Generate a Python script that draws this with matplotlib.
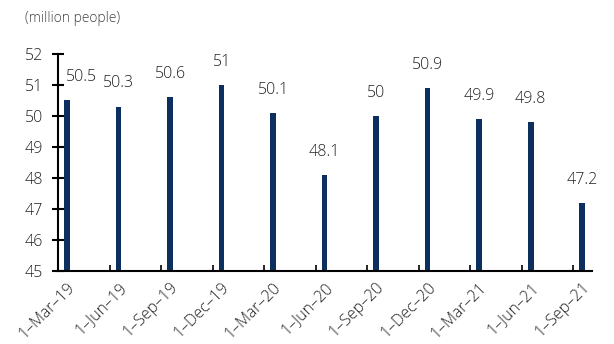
import numpy as np
import matplotlib.pyplot as plt

dates = ['1–Mar–19', '1–Jun–19', '1–Sep–19', '1–Dec–19', '1–Mar–20', '1–Jun–20',
         '1–Sep–20', '1–Dec–20', '1–Mar–21', '1–Jun–21', '1–Sep–21']
values = [50.5, 50.3, 50.6, 51, 50.1, 48.1, 50, 50.9, 49.9, 49.8, 47.2]
labels = ['50.5', '50.3', '50.6', '51', '50.1', '48.1', '50', '50.9', '49.9', '49.8', '47.2']

plt.rcParams['font.family'] = ['Open Sans', 'DejaVu Sans']
plt.rcParams['font.weight'] = 'light'

fig = plt.figure(figsize=(6.14, 3.44), dpi=100)
ax = fig.add_axes([58/614, 1-271/344, (592-58)/614, (271-54)/344])

x = np.arange(len(dates))
ax.bar(x, np.array(values) - 45, bottom=45, width=0.11, color='#0b2f5e')

for i, (v, t) in enumerate(zip(values, labels)):
    dx = 0.28 if i == 0 else 0
    ax.text(i + dx, v + 0.75, t, ha='center', va='center', fontsize=11.5, color='#222222')

ax.set_ylim(45, 52)
ax.set_xlim(-0.175, 10.19)
ax.set_yticks(range(45, 53))
ax.tick_params(axis='y', direction='inout', length=9, width=1.5, labelsize=11.5,
               labelcolor='#222222', pad=6)
ax.set_xticks(x)
ax.set_xticklabels(dates, rotation=45, ha='right', rotation_mode='anchor',
                   fontsize=11.5, color='#222222')
ax.tick_params(axis='x', length=0, pad=6)
ax.set_xticks(np.arange(0.83, 10.2, 1), minor=True)
ax.tick_params(axis='x', which='minor', direction='in', length=4, width=1.2)

for s in ['top', 'right']:
    ax.spines[s].set_visible(False)
for s in ['left', 'bottom']:
    ax.spines[s].set_linewidth(1.5)

fig.text(25/614, 1-18/344, '(million people)', fontsize=10, color='#444444', va='center')

fig.savefig('out.png', dpi=100)
